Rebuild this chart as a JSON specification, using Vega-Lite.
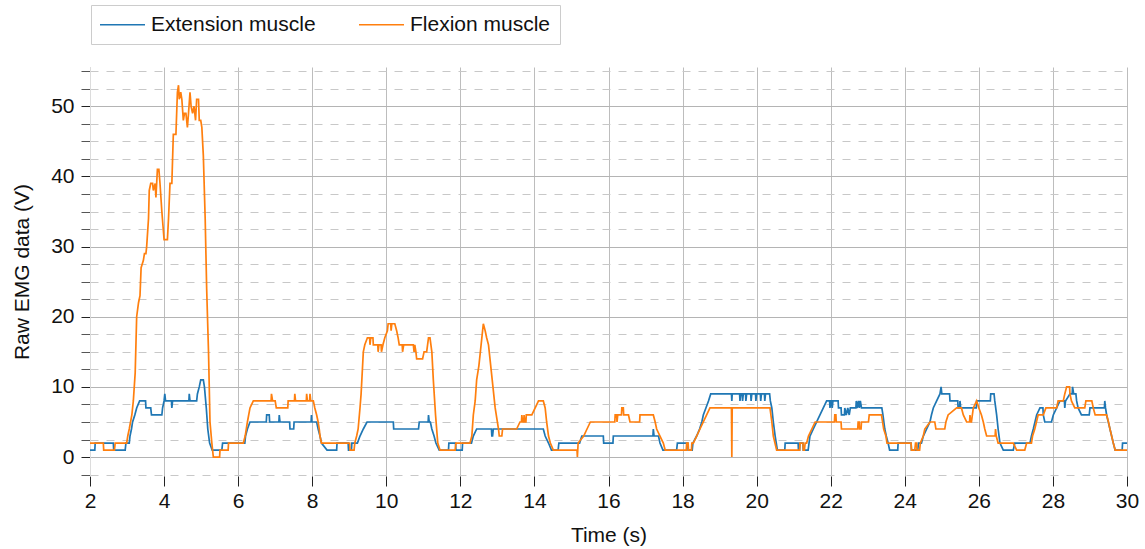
{
  "$schema": "https://vega.github.io/schema/vega-lite/v6.json",
  "width": 1037,
  "height": 409,
  "autosize": {"type": "none"},
  "padding": {"left": 90, "top": 67, "right": 18, "bottom": 73},
  "background": "white",
  "config": {
    "font": "Liberation Sans",
    "view": {"stroke": null},
    "axis": {
      "labelFont": "Liberation Sans",
      "titleFont": "Liberation Sans",
      "labelFontSize": 21,
      "titleFontSize": 21,
      "titleFontWeight": "normal",
      "labelColor": "#111111",
      "titleColor": "#111111"
    },
    "legend": {
      "labelFont": "Liberation Sans",
      "labelFontSize": 21,
      "labelColor": "#111111"
    }
  },
  "datasets": {
    "ext": [
      {"t":2.00,"v":1},{"t":2.13,"v":1},{"t":2.14,"v":2},{"t":2.63,"v":2},{"t":2.64,"v":1},{"t":2.95,"v":1},{"t":2.97,"v":2},{"t":3.06,"v":2},{"t":3.08,"v":3},{"t":3.12,"v":4},{"t":3.15,"v":5},{"t":3.21,"v":6},{"t":3.26,"v":7},{"t":3.34,"v":8},{"t":3.50,"v":8},{"t":3.51,"v":7},{"t":3.64,"v":7},{"t":3.66,"v":6},{"t":3.94,"v":6},{"t":3.96,"v":7},{"t":4.00,"v":8},{"t":4.02,"v":9},{"t":4.04,"v":8},{"t":4.20,"v":8},{"t":4.21,"v":7},{"t":4.23,"v":8},{"t":4.67,"v":8},{"t":4.68,"v":9},{"t":4.70,"v":8},{"t":4.88,"v":8},{"t":4.90,"v":9},{"t":4.95,"v":10},{"t":4.99,"v":11},{"t":5.06,"v":11},{"t":5.09,"v":10},{"t":5.14,"v":7},{"t":5.18,"v":4},{"t":5.23,"v":2},{"t":5.30,"v":1},{"t":5.56,"v":1},{"t":5.58,"v":2},{"t":6.18,"v":2},{"t":6.20,"v":3},{"t":6.25,"v":4},{"t":6.32,"v":5},{"t":6.76,"v":5},{"t":6.77,"v":6},{"t":6.84,"v":6},{"t":6.85,"v":5},{"t":7.10,"v":5},{"t":7.11,"v":6},{"t":7.13,"v":5},{"t":7.39,"v":5},{"t":7.40,"v":4},{"t":7.50,"v":4},{"t":7.51,"v":5},{"t":7.97,"v":5},{"t":7.98,"v":6},{"t":7.99,"v":5},{"t":8.12,"v":5},{"t":8.16,"v":4},{"t":8.21,"v":3},{"t":8.25,"v":2},{"t":8.40,"v":1},{"t":8.66,"v":1},{"t":8.67,"v":2},{"t":8.97,"v":2},{"t":8.98,"v":1},{"t":9.06,"v":1},{"t":9.07,"v":2},{"t":9.22,"v":2},{"t":9.29,"v":3},{"t":9.38,"v":4},{"t":9.48,"v":5},{"t":10.19,"v":5},{"t":10.20,"v":4},{"t":10.87,"v":4},{"t":10.89,"v":5},{"t":11.13,"v":5},{"t":11.14,"v":6},{"t":11.16,"v":5},{"t":11.19,"v":5},{"t":11.23,"v":4},{"t":11.29,"v":3},{"t":11.34,"v":2},{"t":11.43,"v":1},{"t":11.68,"v":1},{"t":11.69,"v":2},{"t":11.87,"v":2},{"t":11.88,"v":1},{"t":12.05,"v":1},{"t":12.06,"v":2},{"t":12.30,"v":2},{"t":12.35,"v":3},{"t":12.44,"v":4},{"t":12.84,"v":4},{"t":12.85,"v":3},{"t":12.87,"v":3},{"t":12.89,"v":4},{"t":14.24,"v":4},{"t":14.29,"v":3},{"t":14.38,"v":2},{"t":14.46,"v":1},{"t":14.64,"v":1},{"t":14.66,"v":2},{"t":15.22,"v":2},{"t":15.28,"v":3},{"t":15.86,"v":3},{"t":15.87,"v":2},{"t":16.12,"v":2},{"t":16.13,"v":3},{"t":17.20,"v":3},{"t":17.21,"v":4},{"t":17.23,"v":3},{"t":17.35,"v":3},{"t":17.39,"v":2},{"t":17.47,"v":1},{"t":17.84,"v":1},{"t":17.86,"v":2},{"t":18.14,"v":2},{"t":18.15,"v":1},{"t":18.26,"v":1},{"t":18.28,"v":2},{"t":18.38,"v":3},{"t":18.46,"v":4},{"t":18.52,"v":5},{"t":18.56,"v":6},{"t":18.63,"v":7},{"t":18.70,"v":8},{"t":18.76,"v":9},{"t":19.32,"v":9},{"t":19.33,"v":8},{"t":19.34,"v":9},{"t":19.54,"v":9},{"t":19.55,"v":8},{"t":19.57,"v":9},{"t":19.61,"v":9},{"t":19.62,"v":8},{"t":19.64,"v":9},{"t":19.70,"v":9},{"t":19.71,"v":8},{"t":19.73,"v":9},{"t":19.84,"v":9},{"t":19.85,"v":8},{"t":19.87,"v":9},{"t":19.97,"v":9},{"t":19.98,"v":8},{"t":20.00,"v":9},{"t":20.10,"v":9},{"t":20.11,"v":8},{"t":20.13,"v":9},{"t":20.21,"v":9},{"t":20.22,"v":8},{"t":20.24,"v":9},{"t":20.35,"v":9},{"t":20.37,"v":8},{"t":20.41,"v":7},{"t":20.45,"v":5},{"t":20.50,"v":3},{"t":20.56,"v":1},{"t":20.76,"v":1},{"t":20.77,"v":2},{"t":21.12,"v":2},{"t":21.13,"v":1},{"t":21.16,"v":1},{"t":21.17,"v":2},{"t":21.25,"v":2},{"t":21.26,"v":1},{"t":21.39,"v":1},{"t":21.44,"v":3},{"t":21.53,"v":4},{"t":21.62,"v":5},{"t":21.71,"v":6},{"t":21.80,"v":7},{"t":21.89,"v":8},{"t":21.97,"v":8},{"t":21.98,"v":7},{"t":22.00,"v":8},{"t":22.02,"v":8},{"t":22.04,"v":7},{"t":22.06,"v":8},{"t":22.20,"v":8},{"t":22.21,"v":7},{"t":22.28,"v":7},{"t":22.29,"v":6},{"t":22.37,"v":6},{"t":22.38,"v":7},{"t":22.42,"v":6},{"t":22.46,"v":7},{"t":22.50,"v":6},{"t":22.53,"v":7},{"t":22.68,"v":7},{"t":22.69,"v":8},{"t":22.71,"v":7},{"t":22.75,"v":8},{"t":22.77,"v":7},{"t":22.80,"v":8},{"t":22.83,"v":7},{"t":23.38,"v":7},{"t":23.41,"v":6},{"t":23.46,"v":4},{"t":23.50,"v":3},{"t":23.55,"v":2},{"t":23.59,"v":1},{"t":23.81,"v":1},{"t":23.82,"v":2},{"t":24.17,"v":2},{"t":24.18,"v":1},{"t":24.35,"v":1},{"t":24.37,"v":2},{"t":24.45,"v":2},{"t":24.50,"v":3},{"t":24.59,"v":4},{"t":24.68,"v":5},{"t":24.72,"v":6},{"t":24.77,"v":7},{"t":24.86,"v":8},{"t":24.95,"v":9},{"t":24.98,"v":10},{"t":25.00,"v":9},{"t":25.21,"v":9},{"t":25.22,"v":8},{"t":25.43,"v":8},{"t":25.44,"v":7},{"t":25.48,"v":7},{"t":25.49,"v":8},{"t":25.51,"v":7},{"t":25.93,"v":7},{"t":25.94,"v":8},{"t":26.31,"v":8},{"t":26.32,"v":9},{"t":26.41,"v":9},{"t":26.43,"v":8},{"t":26.48,"v":6},{"t":26.52,"v":4},{"t":26.57,"v":2},{"t":26.66,"v":1},{"t":26.93,"v":1},{"t":26.97,"v":2},{"t":27.38,"v":2},{"t":27.42,"v":3},{"t":27.47,"v":4},{"t":27.56,"v":6},{"t":27.65,"v":7},{"t":27.73,"v":7},{"t":27.74,"v":6},{"t":27.78,"v":5},{"t":27.96,"v":5},{"t":28.01,"v":6},{"t":28.10,"v":7},{"t":28.19,"v":8},{"t":28.31,"v":8},{"t":28.32,"v":7},{"t":28.34,"v":8},{"t":28.46,"v":9},{"t":28.52,"v":9},{"t":28.53,"v":10},{"t":28.56,"v":9},{"t":28.62,"v":9},{"t":28.64,"v":8},{"t":28.68,"v":7},{"t":28.77,"v":6},{"t":28.98,"v":6},{"t":29.00,"v":7},{"t":29.39,"v":7},{"t":29.40,"v":8},{"t":29.42,"v":7},{"t":29.45,"v":6},{"t":29.54,"v":4},{"t":29.63,"v":2},{"t":29.68,"v":1},{"t":29.87,"v":1},{"t":29.88,"v":2},{"t":30.00,"v":2}
    ],
    "flex": [
      {"t":2.00,"v":2},{"t":2.36,"v":2},{"t":2.37,"v":1},{"t":2.66,"v":1},{"t":2.68,"v":2},{"t":2.99,"v":2},{"t":3.02,"v":3},{"t":3.06,"v":4},{"t":3.13,"v":6},{"t":3.17,"v":8},{"t":3.22,"v":12},{"t":3.26,"v":20},{"t":3.31,"v":22},{"t":3.35,"v":23},{"t":3.38,"v":27},{"t":3.44,"v":28},{"t":3.47,"v":29},{"t":3.51,"v":29},{"t":3.53,"v":30},{"t":3.58,"v":34},{"t":3.60,"v":38},{"t":3.64,"v":39},{"t":3.69,"v":39},{"t":3.71,"v":38},{"t":3.76,"v":39},{"t":3.78,"v":37},{"t":3.82,"v":41},{"t":3.86,"v":41},{"t":3.89,"v":39},{"t":3.94,"v":35},{"t":4.00,"v":31},{"t":4.09,"v":31},{"t":4.12,"v":34},{"t":4.16,"v":39},{"t":4.21,"v":39},{"t":4.25,"v":46},{"t":4.32,"v":46},{"t":4.36,"v":52},{"t":4.39,"v":53},{"t":4.41,"v":51},{"t":4.45,"v":52},{"t":4.48,"v":51},{"t":4.52,"v":48},{"t":4.55,"v":49},{"t":4.59,"v":49},{"t":4.63,"v":47},{"t":4.66,"v":49},{"t":4.70,"v":52},{"t":4.73,"v":50},{"t":4.77,"v":49},{"t":4.81,"v":50},{"t":4.85,"v":48},{"t":4.88,"v":51},{"t":4.93,"v":51},{"t":4.95,"v":48},{"t":4.99,"v":48},{"t":5.02,"v":47},{"t":5.06,"v":43},{"t":5.11,"v":34},{"t":5.15,"v":24},{"t":5.20,"v":15},{"t":5.24,"v":5},{"t":5.29,"v":2},{"t":5.33,"v":0},{"t":5.50,"v":0},{"t":5.51,"v":1},{"t":5.73,"v":1},{"t":5.74,"v":2},{"t":6.14,"v":2},{"t":6.19,"v":3},{"t":6.25,"v":5},{"t":6.32,"v":7},{"t":6.41,"v":8},{"t":6.89,"v":8},{"t":6.90,"v":9},{"t":6.93,"v":8},{"t":7.00,"v":8},{"t":7.03,"v":7},{"t":7.34,"v":7},{"t":7.35,"v":8},{"t":7.52,"v":8},{"t":7.53,"v":9},{"t":7.55,"v":8},{"t":7.84,"v":8},{"t":7.85,"v":9},{"t":7.87,"v":8},{"t":7.93,"v":8},{"t":7.94,"v":9},{"t":7.96,"v":8},{"t":8.03,"v":8},{"t":8.07,"v":7},{"t":8.12,"v":6},{"t":8.16,"v":5},{"t":8.19,"v":4},{"t":8.21,"v":3},{"t":8.25,"v":2},{"t":9.01,"v":2},{"t":9.02,"v":1},{"t":9.13,"v":1},{"t":9.15,"v":2},{"t":9.20,"v":3},{"t":9.24,"v":4},{"t":9.29,"v":7},{"t":9.32,"v":9},{"t":9.34,"v":11},{"t":9.38,"v":15},{"t":9.42,"v":16},{"t":9.49,"v":17},{"t":9.55,"v":17},{"t":9.56,"v":16},{"t":9.58,"v":17},{"t":9.64,"v":17},{"t":9.65,"v":16},{"t":9.77,"v":16},{"t":9.78,"v":15},{"t":9.80,"v":16},{"t":9.86,"v":16},{"t":9.87,"v":15},{"t":9.91,"v":16},{"t":9.96,"v":17},{"t":10.03,"v":18},{"t":10.05,"v":19},{"t":10.12,"v":19},{"t":10.13,"v":18},{"t":10.15,"v":19},{"t":10.23,"v":19},{"t":10.28,"v":18},{"t":10.32,"v":17},{"t":10.35,"v":16},{"t":10.43,"v":16},{"t":10.44,"v":15},{"t":10.47,"v":16},{"t":10.73,"v":16},{"t":10.75,"v":15},{"t":10.77,"v":16},{"t":10.80,"v":15},{"t":10.82,"v":14},{"t":10.98,"v":14},{"t":11.02,"v":15},{"t":11.09,"v":15},{"t":11.14,"v":17},{"t":11.18,"v":17},{"t":11.23,"v":15},{"t":11.27,"v":11},{"t":11.33,"v":6},{"t":11.39,"v":2},{"t":11.45,"v":1},{"t":11.86,"v":1},{"t":11.88,"v":2},{"t":12.26,"v":2},{"t":12.31,"v":3},{"t":12.35,"v":6},{"t":12.40,"v":8},{"t":12.44,"v":11},{"t":12.50,"v":13},{"t":12.58,"v":17},{"t":12.62,"v":19},{"t":12.67,"v":18},{"t":12.71,"v":17},{"t":12.76,"v":16},{"t":12.80,"v":14},{"t":12.86,"v":11},{"t":12.94,"v":7},{"t":13.03,"v":4},{"t":13.05,"v":3},{"t":13.12,"v":3},{"t":13.14,"v":4},{"t":13.52,"v":4},{"t":13.61,"v":5},{"t":13.65,"v":5},{"t":13.66,"v":6},{"t":13.68,"v":5},{"t":13.71,"v":5},{"t":13.72,"v":6},{"t":13.74,"v":5},{"t":13.77,"v":5},{"t":13.78,"v":6},{"t":13.93,"v":6},{"t":14.02,"v":7},{"t":14.11,"v":8},{"t":14.24,"v":8},{"t":14.29,"v":7},{"t":14.33,"v":5},{"t":14.38,"v":3},{"t":14.43,"v":2},{"t":14.51,"v":1},{"t":15.15,"v":1},{"t":15.16,"v":0},{"t":15.18,"v":2},{"t":15.33,"v":3},{"t":15.42,"v":4},{"t":15.51,"v":5},{"t":16.17,"v":5},{"t":16.18,"v":6},{"t":16.22,"v":6},{"t":16.23,"v":5},{"t":16.25,"v":6},{"t":16.35,"v":6},{"t":16.36,"v":7},{"t":16.40,"v":7},{"t":16.41,"v":6},{"t":16.54,"v":6},{"t":16.58,"v":5},{"t":16.84,"v":5},{"t":16.85,"v":6},{"t":17.21,"v":6},{"t":17.26,"v":5},{"t":17.30,"v":4},{"t":17.39,"v":3},{"t":17.48,"v":2},{"t":17.53,"v":1},{"t":18.10,"v":1},{"t":18.11,"v":2},{"t":18.15,"v":2},{"t":18.16,"v":1},{"t":18.24,"v":1},{"t":18.25,"v":2},{"t":18.29,"v":2},{"t":18.38,"v":3},{"t":18.47,"v":4},{"t":18.56,"v":5},{"t":18.65,"v":6},{"t":18.74,"v":7},{"t":19.32,"v":7},{"t":19.33,"v":0},{"t":19.34,"v":7},{"t":20.36,"v":7},{"t":20.41,"v":5},{"t":20.45,"v":3},{"t":20.54,"v":1},{"t":21.16,"v":1},{"t":21.17,"v":2},{"t":21.25,"v":2},{"t":21.26,"v":1},{"t":21.29,"v":1},{"t":21.31,"v":2},{"t":21.35,"v":2},{"t":21.40,"v":3},{"t":21.49,"v":4},{"t":21.58,"v":5},{"t":22.10,"v":5},{"t":22.11,"v":6},{"t":22.14,"v":6},{"t":22.15,"v":5},{"t":22.28,"v":5},{"t":22.29,"v":4},{"t":22.73,"v":4},{"t":22.74,"v":5},{"t":22.77,"v":5},{"t":22.78,"v":4},{"t":22.82,"v":4},{"t":22.83,"v":5},{"t":23.02,"v":5},{"t":23.04,"v":6},{"t":23.37,"v":6},{"t":23.40,"v":5},{"t":23.43,"v":4},{"t":23.49,"v":3},{"t":23.52,"v":2},{"t":24.17,"v":2},{"t":24.18,"v":1},{"t":24.27,"v":1},{"t":24.29,"v":2},{"t":24.32,"v":2},{"t":24.33,"v":1},{"t":24.40,"v":1},{"t":24.42,"v":2},{"t":24.50,"v":3},{"t":24.54,"v":4},{"t":24.68,"v":5},{"t":24.81,"v":5},{"t":24.84,"v":4},{"t":25.08,"v":4},{"t":25.11,"v":5},{"t":25.17,"v":6},{"t":25.40,"v":7},{"t":25.53,"v":7},{"t":25.58,"v":6},{"t":25.67,"v":5},{"t":25.75,"v":5},{"t":25.76,"v":6},{"t":25.78,"v":5},{"t":25.80,"v":5},{"t":25.85,"v":7},{"t":25.94,"v":8},{"t":26.00,"v":7},{"t":26.07,"v":6},{"t":26.12,"v":5},{"t":26.16,"v":4},{"t":26.21,"v":3},{"t":26.44,"v":3},{"t":26.45,"v":4},{"t":26.47,"v":3},{"t":26.52,"v":2},{"t":26.93,"v":2},{"t":27.02,"v":1},{"t":27.24,"v":1},{"t":27.29,"v":2},{"t":27.42,"v":2},{"t":27.45,"v":3},{"t":27.51,"v":4},{"t":27.60,"v":6},{"t":27.74,"v":6},{"t":27.81,"v":7},{"t":28.10,"v":7},{"t":28.14,"v":8},{"t":28.28,"v":8},{"t":28.32,"v":9},{"t":28.37,"v":10},{"t":28.45,"v":10},{"t":28.46,"v":9},{"t":28.50,"v":8},{"t":28.59,"v":7},{"t":28.86,"v":7},{"t":28.89,"v":8},{"t":29.05,"v":8},{"t":29.09,"v":7},{"t":29.14,"v":6},{"t":29.45,"v":6},{"t":29.50,"v":5},{"t":29.54,"v":4},{"t":29.63,"v":2},{"t":29.68,"v":1},{"t":30.00,"v":1}
    ]
  },
  "encoding": {
    "x": {
      "field": "t",
      "type": "quantitative",
      "title": "Time (s)",
      "scale": {"domain": [2, 30], "nice": false, "zero": false},
      "axis": {
        "values": [2, 4, 6, 8, 10, 12, 14, 16, 18, 20, 22, 24, 26, 28, 30],
        "format": "d",
        "domain": false,
        "grid": true,
        "gridColor": "#bdbdbd",
        "gridWidth": 1,
        "ticks": true,
        "tickColor": "#222222",
        "tickSize": 10,
        "labelPadding": 4,
        "labelFlush": false,
        "labelOverlap": false,
        "titlePadding": 13
      }
    },
    "y": {
      "field": "v",
      "type": "quantitative",
      "title": "Raw EMG data (V)",
      "scale": {"domain": [-2.7, 55.6], "nice": false, "zero": false},
      "axis": {
        "values": [-2.5, 0, 2.5, 5, 7.5, 10, 12.5, 15, 17.5, 20, 22.5, 25, 27.5, 30, 32.5, 35, 37.5, 40, 42.5, 45, 47.5, 50, 52.5, 55],
        "labelExpr": "datum.value % 10 === 0 ? format(datum.value, 'd') : ''",
        "labelOverlap": false,
        "labelFlush": false,
        "labelPadding": 7,
        "domain": true,
        "domainColor": "#dcdcdc",
        "grid": true,
        "gridWidth": 1,
        "gridColor": {"condition": {"test": "datum.value % 10 === 0", "value": "#b4b4b4"}, "value": "#c8c8c8"},
        "gridDash": {"condition": {"test": "datum.value % 10 === 0", "value": []}, "value": [8, 8]},
        "tickColor": {"condition": {"test": "datum.value % 10 === 0", "value": "#222222"}, "value": "#555555"},
        "tickSize": 9,
        "titlePadding": 18
      }
    },
    "color": {
      "type": "nominal",
      "scale": {"domain": ["Extension muscle", "Flexion muscle"], "range": ["#1f77b4", "#ff7f0e"]},
      "legend": {
        "title": null,
        "orient": "none",
        "legendX": 1,
        "legendY": -62,
        "direction": "horizontal",
        "symbolType": "M-4.5,0H4.5",
        "symbolSize": 100,
        "symbolStrokeWidth": 1.5,
        "symbolOffset": 12,
        "labelOffset": 18,
        "labelLimit": 400,
        "columnPadding": 40,
        "padding": 9,
        "fillColor": "white",
        "strokeColor": "#cccccc"
      }
    }
  },
  "layer": [
    {
      "data": {"name": "ext"},
      "mark": {"type": "line", "strokeWidth": 1.7, "clip": true},
      "encoding": {"color": {"datum": "Extension muscle"}, "order": {"value": null}}
    },
    {
      "data": {"name": "flex"},
      "mark": {"type": "line", "strokeWidth": 1.7, "clip": true},
      "encoding": {"color": {"datum": "Flexion muscle"}, "order": {"value": null}}
    }
  ]
}
